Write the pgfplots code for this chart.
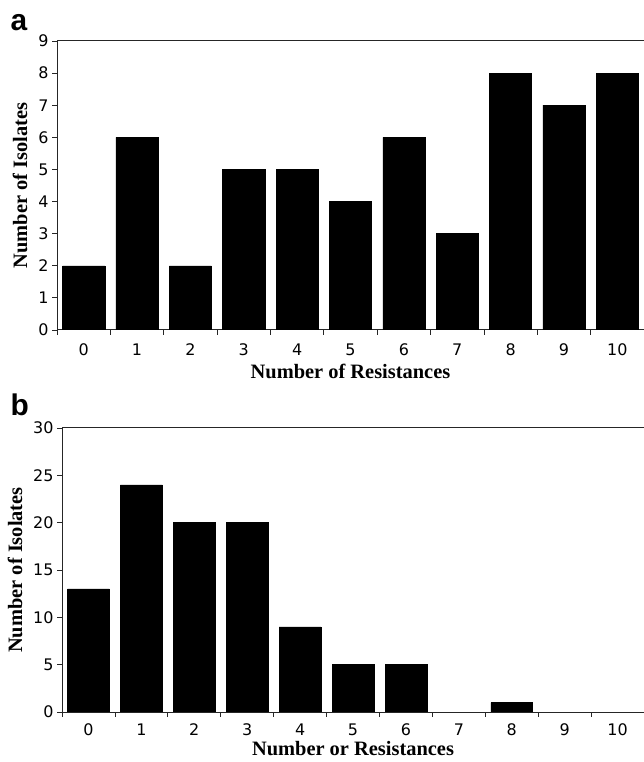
\documentclass[border=0pt]{standalone}
\usepackage{fontspec}
\setmainfont{Liberation Serif}
\newfontfamily\tickfont{DejaVu Sans}
\newfontfamily\letterfont{Liberation Sans}
\usepackage{pgfplots}
\pgfplotsset{compat=1.18}

\pgfplotsset{
  panel/.style={
    scale only axis,
    anchor=south west,
    axis x line*=box,
    axis y line*=left,
    xtick pos=lower,
    ytick pos=left,
    axis line style={line width=1bp, black!85},
    xmin=-0.5, xmax=10.5,
    ymin=0,
    xtick={0,...,10},
    xticklabels={0,1,2,3,4,5,6,7,8,9,10},
    minor xtick={-0.5,0.5,...,10.5},
    major x tick style={draw=none},
    minor x tick style={line width=0.8bp, black!85},
    ytick style={line width=0.8bp, black!85},
    tick align=outside,
    major tick length=5bp,
    minor tick length=5bp,
    /pgf/number format/assume math mode=true,
    tick label style={font=\tickfont\fontsize{16}{16}\selectfont},
    xticklabel style={yshift=-5bp},
    label style={font=\bfseries\fontsize{20.5}{20.5}\selectfont},
    xlabel shift=2bp,
    ylabel shift=4bp,
    ybar,
    bar width=0.79,
  },
}

\begin{document}
\begin{tikzpicture}
\useasboundingbox (0,0) rectangle (644bp,762bp);

% panel a
\begin{axis}[panel,
  at={(57bp,432bp)}, width=587bp, height=289bp,
  ymax=9, ytick={0,...,9},
  xlabel={Number of Resistances},
  ylabel={Number of Isolates},
]
\addplot[fill=black, draw=black] coordinates {
  (0,2) (1,6) (2,2) (3,5) (4,5) (5,4) (6,6) (7,3) (8,8) (9,7) (10,8)
};
\end{axis}
\node[anchor=base west, font=\letterfont\bfseries\fontsize{30}{30}\selectfont]
  at (7bp,731bp) {a};

% panel b
\begin{axis}[panel,
  at={(62bp,50bp)}, width=582bp, height=284bp,
  ymax=30, ytick={0,5,...,30},
  xlabel={Number or Resistances},
  ylabel={Number of Isolates},
  xticklabel style={yshift=2bp},
  xlabel shift=-1bp,
]
\addplot[fill=black, draw=black] coordinates {
  (0,13) (1,24) (2,20) (3,20) (4,9) (5,5) (6,5) (7,0) (8,1) (9,0) (10,0)
};
\end{axis}
\node[anchor=base west, font=\letterfont\bfseries\fontsize{30}{30}\selectfont]
  at (7bp,346bp) {b};
\end{tikzpicture}
\end{document}
